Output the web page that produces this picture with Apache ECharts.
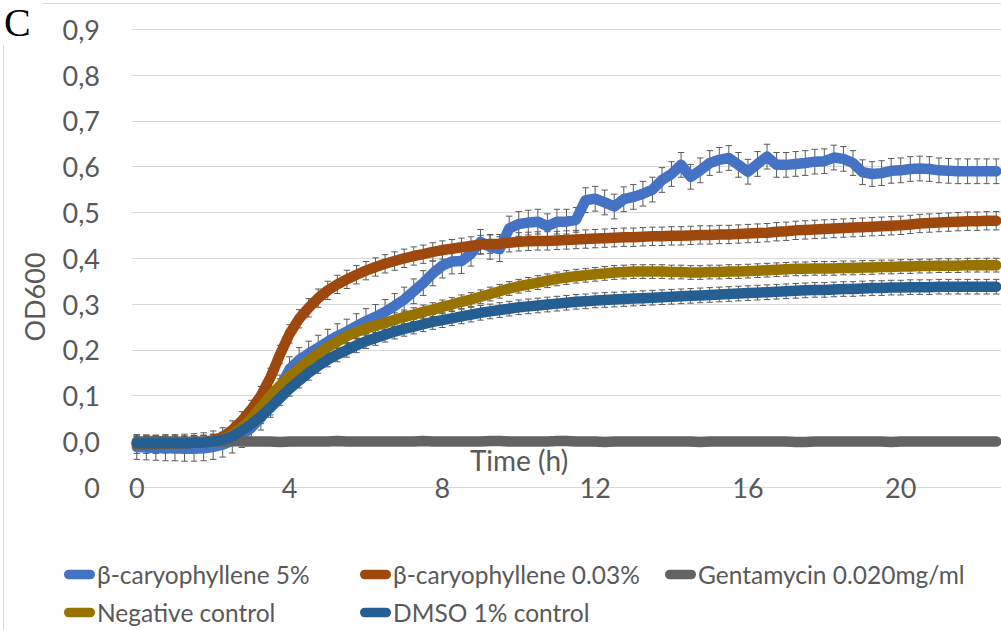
<!DOCTYPE html>
<html><head><meta charset="utf-8">
<script src="https://cdn.jsdelivr.net/npm/echarts@6/dist/echarts.min.js"></script>
<style>html,body{margin:0;padding:0;background:#fff}#c{width:1001px;height:630px}</style>
</head><body><div id="c"></div>
<script>
// Time grid (h), every 15 min
const hours = [];
for (let i = 0; i <= 90; i++) hours.push(String(i * 0.25));
const xTickLabels = ['0', '4', '8', '12', '16', '20'];
const yTickLabels = ['0', '0,0', '0,1', '0,2', '0,3', '0,4', '0,5', '0,6', '0,7', '0,8', '0,9'];

const seriesNames = ['β-caryophyllene 5%', 'β-caryophyllene 0.03%', 'Gentamycin 0.020mg/ml', 'Negative control', 'DMSO 1% control'];

const caryo5 = [
  -0.012, -0.013, -0.014, -0.015,
  -0.015, -0.016, -0.016, -0.015,
  -0.012, -0.007, 0.002, 0.014,
  0.030, 0.052, 0.080, 0.118,
  0.158, 0.178, 0.192, 0.205,
  0.218, 0.230, 0.240, 0.252,
  0.263, 0.272, 0.283, 0.296,
  0.310, 0.328, 0.346, 0.367,
  0.384, 0.393, 0.394, 0.410,
  0.436, 0.425, 0.420, 0.465,
  0.475, 0.478, 0.480, 0.470,
  0.480, 0.480, 0.484, 0.527,
  0.530, 0.522, 0.513, 0.529,
  0.534, 0.541, 0.550, 0.571,
  0.584, 0.604, 0.578, 0.592,
  0.608, 0.615, 0.619, 0.604,
  0.589, 0.606, 0.622, 0.604,
  0.604, 0.606, 0.608, 0.611,
  0.612, 0.620, 0.617, 0.608,
  0.588, 0.584, 0.586, 0.591,
  0.592, 0.595, 0.596, 0.595,
  0.592, 0.591, 0.590, 0.590,
  0.590, 0.590, 0.590
];
const caryo003 = [
  -0.006, -0.006, -0.006, -0.005,
  -0.005, -0.004, -0.003, -0.001,
  0.003, 0.010, 0.025, 0.045,
  0.070, 0.100, 0.140, 0.190,
  0.235, 0.268, 0.292, 0.313,
  0.330, 0.343, 0.354, 0.364,
  0.373, 0.381, 0.388, 0.394,
  0.400, 0.405, 0.409, 0.414,
  0.418, 0.421, 0.424, 0.427,
  0.430, 0.431, 0.432, 0.434,
  0.436, 0.437, 0.438, 0.438,
  0.439, 0.440, 0.441, 0.442,
  0.443, 0.444, 0.445, 0.446,
  0.446, 0.447, 0.448, 0.448,
  0.449, 0.449, 0.450, 0.451,
  0.451, 0.452, 0.452, 0.453,
  0.454, 0.455, 0.456, 0.458,
  0.459, 0.461, 0.462, 0.463,
  0.464, 0.465, 0.466, 0.467,
  0.468, 0.469, 0.470, 0.471,
  0.472, 0.474, 0.476, 0.477,
  0.478, 0.479, 0.480, 0.481,
  0.481, 0.482, 0.482
];
const gentamycin = [
  0.000, 0.000, 0.001, 0.000,
  0.000, -0.001, 0.000, 0.000,
  0.000, 0.000, 0.001, 0.000,
  0.000, 0.000, 0.000, -0.001,
  0.000, 0.000, 0.000, 0.000,
  0.000, 0.001, 0.000, 0.000,
  0.000, 0.000, 0.000, 0.000,
  0.000, 0.000, 0.001, 0.000,
  0.000, 0.000, 0.000, 0.000,
  0.000, 0.001, 0.001, 0.000,
  0.000, 0.000, 0.000, 0.000,
  0.001, 0.001, 0.000, 0.000,
  0.000, -0.001, 0.000, 0.000,
  0.000, 0.000, 0.000, 0.000,
  0.000, 0.000, 0.000, -0.001,
  0.000, 0.000, 0.000, 0.000,
  0.000, 0.000, 0.000, 0.000,
  0.000, -0.001, -0.001, 0.000,
  0.000, 0.000, 0.000, 0.000,
  0.000, 0.000, 0.000, -0.001,
  0.000, 0.000, 0.000, 0.000,
  0.000, 0.000, 0.000, 0.000,
  0.000, 0.000, 0.000
];
const negControl = [
  -0.004, -0.004, -0.004, -0.004,
  -0.004, -0.003, -0.003, -0.002,
  0.000, 0.005, 0.015, 0.030,
  0.050, 0.075, 0.100, 0.122,
  0.142, 0.160, 0.177, 0.192,
  0.206, 0.218, 0.230, 0.239,
  0.247, 0.253, 0.259, 0.266,
  0.272, 0.277, 0.283, 0.288,
  0.294, 0.299, 0.305, 0.310,
  0.316, 0.322, 0.328, 0.334,
  0.339, 0.343, 0.347, 0.351,
  0.355, 0.358, 0.361, 0.363,
  0.365, 0.367, 0.369, 0.370,
  0.371, 0.371, 0.371, 0.371,
  0.370, 0.370, 0.369, 0.369,
  0.370, 0.370, 0.371, 0.371,
  0.372, 0.373, 0.374, 0.375,
  0.376, 0.377, 0.377, 0.378,
  0.378, 0.378, 0.379, 0.379,
  0.380, 0.380, 0.381, 0.381,
  0.382, 0.382, 0.383, 0.383,
  0.384, 0.384, 0.384, 0.385,
  0.385, 0.385, 0.385
];
const dmso = [
  -0.004, -0.004, -0.004, -0.004,
  -0.004, -0.004, -0.003, -0.002,
  0.000, 0.004, 0.011, 0.024,
  0.038, 0.055, 0.074, 0.095,
  0.115, 0.133, 0.150, 0.165,
  0.179, 0.190, 0.200, 0.210,
  0.219, 0.226, 0.233, 0.240,
  0.246, 0.251, 0.256, 0.261,
  0.265, 0.269, 0.273, 0.277,
  0.281, 0.284, 0.287, 0.290,
  0.293, 0.295, 0.297, 0.299,
  0.301, 0.303, 0.305, 0.306,
  0.308, 0.309, 0.310, 0.311,
  0.312, 0.313, 0.314, 0.315,
  0.316, 0.317, 0.318, 0.319,
  0.320, 0.321, 0.322, 0.323,
  0.324, 0.325, 0.326, 0.327,
  0.328, 0.329, 0.330, 0.331,
  0.331, 0.332, 0.333, 0.333,
  0.334, 0.335, 0.335, 0.336,
  0.336, 0.337, 0.337, 0.337,
  0.338, 0.338, 0.338, 0.338,
  0.338, 0.338, 0.338
];
// Estimated error-bar half-lengths (SD) per series
const errorSD = [0.027, 0.02, 0.003, 0.015, 0.016];

const seriesData = [caryo5, caryo003, gentamycin, negControl, dmso];
const colors = ['#4472C4', '#9E480E', '#636363', '#997300', '#255E91'];
const FONT = 'Lato, "Open Sans", "DejaVu Sans", sans-serif';
const capsule = 'path://M5,0 L27,0 A5,5 0 0 1 27,10 L5,10 A5,5 0 0 1 5,0 Z';

function errSeries(idx) {
  const vals = seriesData[idx], e = errorSD[idx];
  return {
    type: 'custom', name: seriesNames[idx] + ' SD', silent: true, z: 1,
    data: vals.map((v, i) => [i, v, e]),
    encode: { x: 0, y: 1 },
    renderItem(params, api) {
      const x = api.value(0), v = api.value(1), s = api.value(2);
      const t = api.coord([x, v + s]), b = api.coord([x, v - s]);
      const w = 3.2, st = { stroke: '#5a5a5a', lineWidth: 1 };
      return { type: 'group', children: [
        { type: 'line', shape: { x1: t[0], y1: t[1], x2: b[0], y2: b[1] }, style: st },
        { type: 'line', shape: { x1: t[0] - w, y1: t[1], x2: t[0] + w, y2: t[1] }, style: st },
        { type: 'line', shape: { x1: b[0] - w, y1: b[1], x2: b[0] + w, y2: b[1] }, style: st }
      ]};
    }
  };
}

const lineSeries = seriesData.map((d, i) => ({
  type: 'line', name: seriesNames[i], data: d, showSymbol: false, symbol: 'none',
  color: colors[i], z: 2 + i,
  lineStyle: { width: 10.5, color: colors[i], cap: 'round', join: 'round' }
}));

const legendPos = [[64, 562], [360, 562], [665, 562], [64, 600], [360, 600]];

const chart = echarts.init(document.getElementById('c'), null, { renderer: 'svg' });
chart.setOption({
  animation: false,
  backgroundColor: '#fff',
  grid: { left: 132, top: 29.3, width: 873.6, height: 458, containLabel: false },
  xAxis: {
    type: 'category', data: hours, boundaryGap: true,
    axisLine: { show: false }, axisTick: { show: false }, splitLine: { show: false },
    axisLabel: {
      interval: (i, v) => xTickLabels.includes(v),
      formatter: v => v,
      margin: 0, verticalAlign: 'middle',
      fontSize: 27, fontFamily: FONT, color: '#595959'
    }
  },
  yAxis: {
    type: 'value', min: -0.1, max: 0.9, interval: 0.1,
    axisLine: { show: false }, axisTick: { show: false },
    splitLine: { lineStyle: { color: '#D9D9D9', width: 1 } },
    axisLabel: {
      formatter: (v, i) => yTickLabels[i], margin: 32,
      fontSize: 27, fontFamily: FONT, color: '#595959'
    }
  },
  legend: seriesNames.map((n, i) => ({
    data: [n], left: legendPos[i][0], top: legendPos[i][1], selectedMode: false,
    icon: capsule, itemWidth: 31, itemHeight: 10, padding: 0,
    textStyle: { fontSize: 24.5, fontFamily: FONT, color: '#595959', padding: [0, 0, 0, -3] }
  })),
  graphic: [
    { type: 'line', shape: { x1: 43, y1: 3.5, x2: 1001, y2: 3.5 }, style: { stroke: '#D9D9D9', lineWidth: 1 } },
    { type: 'line', shape: { x1: 3.5, y1: 45, x2: 3.5, y2: 630 }, style: { stroke: '#D9D9D9', lineWidth: 1 } },
    { type: 'text', x: 4, y: 22, style: { text: 'C', font: '40px "Liberation Serif", serif', fill: '#000', verticalAlign: 'middle' } },
    { type: 'text', x: 34, y: 297, rotation: Math.PI / 2, style: { text: 'OD600', fontSize: 27, fontFamily: FONT, fill: '#595959', align: 'center', verticalAlign: 'middle' } },
    { type: 'text', x: 519, y: 460, z: 20, style: { text: 'Time (h)', fontSize: 28, fontFamily: FONT, fill: '#595959', align: 'center', verticalAlign: 'middle' } }
  ],
  series: [0, 1, 2, 3, 4].map(errSeries).concat(lineSeries)
});
</script>
</body></html>
